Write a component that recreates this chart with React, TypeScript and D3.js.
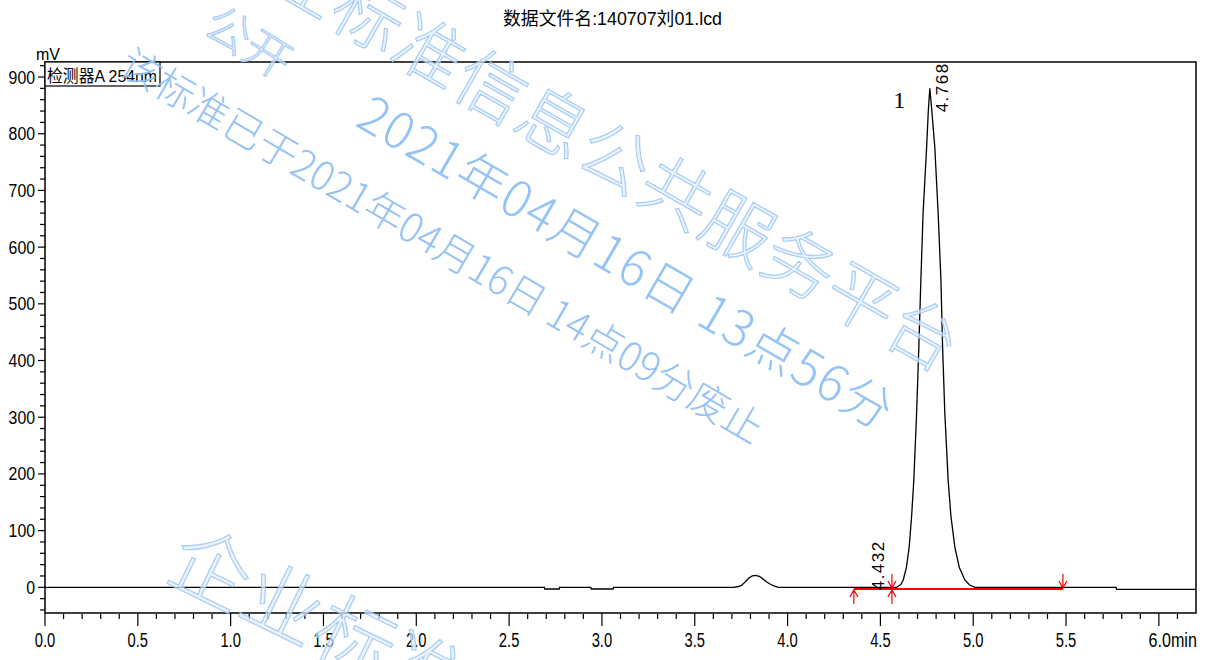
import React from "react";
import * as d3 from "d3";

// ---------- data ----------
const TITLE = "数据文件名:140707刘01.lcd";
const DETECTOR = "检测器A 254nm";
const Y_UNIT = "mV";

const retentionTimes = [
  0, 2.69, 2.692, 2.77, 2.772, 2.94, 2.942, 3.06, 3.062, 3.71, 3.73, 3.75, 3.77,
  3.79, 3.81, 3.83, 3.85, 3.87, 3.89, 3.91, 3.93, 3.95, 4.587, 4.61, 4.623, 4.64,
  4.655, 4.668, 4.68, 4.695, 4.707, 4.718, 4.73, 4.749, 4.758, 4.766, 4.776,
  4.793, 4.811, 4.826, 4.835, 4.847, 4.865, 4.88, 4.901, 4.925, 4.955, 4.98,
  5.009, 5.77, 5.772, 6.2,
];
const signalMV = [
  0, 0, -3, -3, 0, 0, -3, -3, 0, 0, 1, 3, 9, 16, 20, 21, 19, 14, 9, 5, 2, 0, 0,
  5, 13, 35, 71, 125, 189, 307, 424, 542, 660, 776, 840, 880, 845, 776, 660, 542,
  424, 307, 189, 125, 71, 35, 13, 4, 0, 0, -3.5, -3.5,
];

const xMajorTicks = [0, 0.5, 1, 1.5, 2, 2.5, 3, 3.5, 4, 4.5, 5, 5.5, 6];
const xTickLabels = ["0.0", "0.5", "1.0", "1.5", "2.0", "2.5", "3.0", "3.5", "4.0", "4.5", "5.0", "5.5", "6.0min"];
const yMajorTicks = [0, 100, 200, 300, 400, 500, 600, 700, 800, 900];
const yTickLabels = ["0", "100", "200", "300", "400", "500", "600", "700", "800", "900"];

const peakTimes = [4.432, 4.768];
const peakTimeLabels = ["4.432", "4.768"];
const peakHeights = [0, 880];
const peakNumbers = ["", "1"];

const integrationStart = 4.357;
const integrationSplit = 4.562;
const integrationEnd = 5.483;
const integrationLevel = -3;

const X_DOMAIN = [0, 6.2];
const Y_DOMAIN = [-45.3, 926.5];

const watermarks = [
  { text: "企业标准信息公共服务平台", x: 217, y: -76, angle: 29.8, size: 70, len: 852, kind: "emboss" },
  { text: "公开", x: 211, y: 15, angle: 32, size: 46, len: 92, kind: "emboss" },
  { text: "2021年04月16日  13点56分", x: 365, y: 106, angle: 30.2, size: 50, len: 608, kind: "solid" },
  { text: "该标准已于2021年04月16日  14点09分废止", x: 125, y: 57, angle: 30.4, size: 40, len: 738, kind: "solid" },
  { text: "企业标准信息公共服务平台", x: 178, y: 546, angle: 26, size: 80, len: 960, kind: "emboss" },
];

// ---------- layout ----------
const W = 1210;
const H = 660;
const LEFT = 45;
const RIGHT = 1196;
const TOP = 62;
const BOTTOM = 613;

const SANS = '"Liberation Sans", Arial, "Noto Sans CJK SC", sans-serif';
const CJK = '"Noto Sans CJK SC", "Noto Sans", sans-serif';

// approximate narrow label width (reference uses a condensed bitmap-like font)
const narrowWidth = (s: string, digit: number) =>
  Array.from(s).reduce((acc, c) => {
    if (c === ".") return acc + digit * 0.5;
    if (c === "m") return acc + digit * 1.45;
    if (c === "i") return acc + digit * 0.45;
    return acc + digit;
  }, 0);

export default function App() {
  const x = d3.scaleLinear().domain(X_DOMAIN).range([LEFT, RIGHT]);
  const y = d3.scaleLinear().domain(Y_DOMAIN).range([BOTTOM, TOP]);

  const pts = retentionTimes.map((t, i) => [t, signalMV[i]] as [number, number]);
  const line = d3
    .line<[number, number]>()
    .x((d) => x(d[0]))
    .y((d) => y(d[1]))
    .curve(d3.curveLinear);

  const xMinor = d3.range(0, 62).map((i) => i / 10).filter((v) => Math.abs(v * 2 - Math.round(v * 2)) > 1e-6);
  const yMinor = d3.range(-40, 921, 20).filter((v) => v % 100 !== 0);

  const yb = y(integrationLevel);
  const xs = x(integrationStart);
  const xm = x(integrationSplit);
  const xe = x(integrationEnd);
  const upArrow = (cx: number) =>
    `M${cx},${yb + 1}L${cx},${yb + 15}M${cx - 4},${yb + 8}L${cx},${yb + 1}L${cx + 4},${yb + 8}`;
  const downArrow = (cx: number) =>
    `M${cx},${yb - 1}L${cx},${yb - 15}M${cx - 4},${yb - 8}L${cx},${yb - 1}L${cx + 4},${yb - 8}`;

  return (
    <svg
      width={W}
      height={H}
      style={{ position: "absolute", left: 0, top: 0, background: "#fff" }}
    >
      <rect x={0} y={0} width={W} height={H} fill="#fff" />
      {/* title */}
      <text
        x={503}
        y={25}
        fontFamily={SANS}
        fontSize={18}
        textLength={219}
        lengthAdjust="spacingAndGlyphs"
        fill="#000"
      >
        {TITLE}
      </text>
      <text x={36} y={60} fontFamily={SANS} fontSize={17} textLength={24} lengthAdjust="spacingAndGlyphs" fill="#000">
        {Y_UNIT}
      </text>

      {/* frame */}
      <rect x={LEFT} y={TOP} width={RIGHT - LEFT} height={BOTTOM - TOP} fill="none" stroke="#000" strokeWidth={1.5} />

      {/* y ticks */}
      {yMajorTicks.map((v, i) => (
        <g key={"ym" + v}>
          <line x1={LEFT - 7} x2={LEFT} y1={y(v)} y2={y(v)} stroke="#000" strokeWidth={1.2} />
          <text
            x={35}
            y={y(v)}
            dy="0.36em"
            textAnchor="end"
            fontFamily={SANS}
            fontSize={18}
            textLength={narrowWidth(yTickLabels[i], 8.8)}
            lengthAdjust="spacingAndGlyphs"
            fill="#000"
          >
            {yTickLabels[i]}
          </text>
        </g>
      ))}
      {yMinor.map((v) => (
        <line key={"yn" + v} x1={LEFT - 5} x2={LEFT} y1={y(v)} y2={y(v)} stroke="#000" strokeWidth={1.2} />
      ))}

      {/* x ticks */}
      {xMajorTicks.map((v, i) => {
        const last = i === xMajorTicks.length - 1;
        const lbl = xTickLabels[i];
        const w = narrowWidth(lbl, 8.2);
        const core = narrowWidth(lbl.slice(0, 3), 8.2);
        return (
          <g key={"xm" + v}>
            <line x1={x(v)} x2={x(v)} y1={BOTTOM} y2={BOTTOM + 13} stroke="#000" strokeWidth={1.2} />
            <text
              x={x(v) - core / 2}
              y={647}
              fontFamily={SANS}
              fontSize={20}
              textLength={last ? w + 4 : w}
              lengthAdjust="spacingAndGlyphs"
              fill="#000"
            >
              {lbl}
            </text>
          </g>
        );
      })}
      {xMinor.map((v) => (
        <line key={"xn" + v} x1={x(v)} x2={x(v)} y1={BOTTOM + 1} y2={BOTTOM + 6} stroke="#000" strokeWidth={1.2} />
      ))}

      {/* detector box */}
      <rect x={LEFT} y={TOP} width={115} height={24} fill="#fff" stroke="#000" strokeWidth={1.2} />
      <text
        x={47}
        y={82}
        fontFamily={SANS}
        fontSize={17}
        textLength={110}
        lengthAdjust="spacingAndGlyphs"
        fill="#000"
      >
        {DETECTOR}
      </text>

      {/* integration baseline */}
      <line x1={xs} x2={xe} y1={yb} y2={yb} stroke="#ff0000" strokeWidth={2} />

      {/* chromatogram trace */}
      <path d={line(pts) || ""} fill="none" stroke="#000" strokeWidth={1.3} />

      {/* integration markers */}
      <path d={upArrow(xs)} fill="none" stroke="#ff0000" strokeWidth={1.2} />
      <path d={upArrow(xm) + downArrow(xm)} fill="none" stroke="#ff0000" strokeWidth={1.2} />
      <path d={downArrow(xe)} fill="none" stroke="#ff0000" strokeWidth={1.2} />

      {/* peak labels */}
      {peakTimes.map((t, i) => {
        const px = x(t) + (i === 0 ? 16 : 18);
        const py = i === 0 ? y(peakHeights[i]) + 3 : y(peakHeights[i]) + 24;
        return (
          <g key={"pk" + i}>
            <text
              transform={`translate(${px},${py}) rotate(-90)`}
              fontFamily='"Liberation Sans", Arial, sans-serif'
              fontSize={17}
              letterSpacing={1.5}
              fill="#000"
            >
              {peakTimeLabels[i]}
            </text>
            {peakNumbers[i] && (
              <text
                x={x(t) - 31}
                y={y(peakHeights[i]) + 20}
                textAnchor="middle"
                fontFamily='"Liberation Serif", "Times New Roman", serif'
                fontSize={24}
                fill="#000"
              >
                {peakNumbers[i]}
              </text>
            )}
          </g>
        );
      })}

      {/* watermarks */}
      <g style={{ pointerEvents: "none" }}>
        {watermarks.map((w, i) => (
          <text
            key={"wm" + i}
            transform={`translate(${w.x},${w.y}) rotate(${w.angle})`}
            dominantBaseline="central"
            fontFamily={CJK}
            fontWeight={300}
            fontSize={w.size}
            textLength={w.len}
            lengthAdjust="spacing"
            fill={w.kind === "solid" ? "#8fc0f4" : "#e2eefb"}
            fillOpacity={w.kind === "solid" ? 0.95 : 0.7}
            stroke={w.kind === "solid" ? "none" : "#9ac5f2"}
            strokeWidth={w.kind === "solid" ? 0 : 1.2}
            strokeOpacity={0.85}
          >
            {w.text}
          </text>
        ))}
      </g>
    </svg>
  );
}
